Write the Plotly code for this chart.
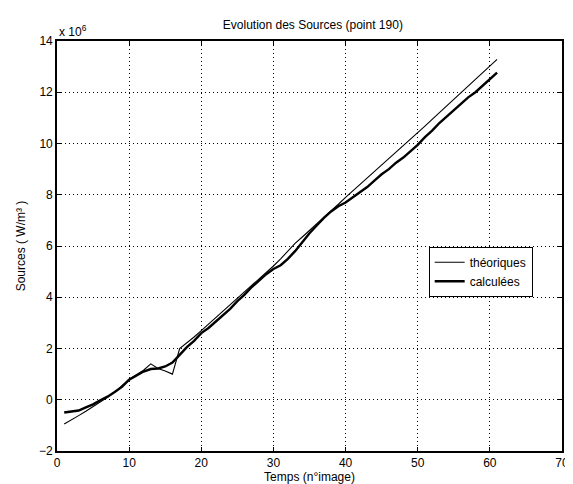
import plotly.graph_objects as go

images = list(range(1, 62))
theoriques = [-0.95, -0.8, -0.62, -0.45, -0.27, -0.1, 0.1, 0.3, 0.55, 0.8,
              0.98, 1.15, 1.4, 1.22, 1.12, 1.0, 2.0, 2.22, 2.45, 2.7,
              2.95, 3.2, 3.45, 3.7, 3.95, 4.2, 4.45, 4.7, 4.95, 5.22,
              5.5, 5.8, 6.1, 6.35, 6.6, 6.85, 7.1, 7.37, 7.63, 7.9,
              8.15, 8.4, 8.65, 8.9, 9.15, 9.4, 9.65, 9.9, 10.15, 10.42,
              10.68, 10.94, 11.2, 11.46, 11.72, 11.98, 12.24, 12.5, 12.76, 13.02,
              13.28]
calculees = [-0.5, -0.47, -0.42, -0.3, -0.18, -0.02, 0.12, 0.3, 0.5, 0.78,
             0.95, 1.1, 1.2, 1.22, 1.3, 1.45, 1.75, 2.05, 2.3, 2.6,
             2.8, 3.05, 3.3, 3.55, 3.85, 4.1, 4.4, 4.65, 4.9, 5.1,
             5.25, 5.5, 5.8, 6.15, 6.5, 6.8, 7.1, 7.35, 7.55, 7.7,
             7.9, 8.1, 8.3, 8.55, 8.8, 9.0, 9.25, 9.45, 9.7, 9.95,
             10.25, 10.5, 10.8, 11.05, 11.3, 11.55, 11.8, 12.0, 12.25, 12.5,
             12.77]

x_ticks = [0, 10, 20, 30, 40, 50, 60, 70]
y_ticks = [-2, 0, 2, 4, 6, 8, 10, 12, 14]

FONT = "Liberation Sans, Arial, Helvetica, sans-serif"

fig = go.Figure()
fig.add_trace(go.Scatter(x=images, y=theoriques, mode="lines", name="théoriques",
                         line=dict(color="black", width=1.1)))
fig.add_trace(go.Scatter(x=images, y=calculees, mode="lines", name="calculées",
                         line=dict(color="black", width=2.4)))

axis_common = dict(
    showline=True, linecolor="black", linewidth=1.6, mirror="ticks",
    showgrid=True, gridcolor="black", gridwidth=1, griddash="1px,3px",
    ticks="inside", ticklen=4, tickcolor="black", tickwidth=1.2,
    zeroline=False, tickfont=dict(family=FONT, size=12, color="black"),
)

fig.update_layout(
    width=573, height=484,
    margin=dict(l=49, r=12, t=33, b=37),
    paper_bgcolor="white", plot_bgcolor="white",
    font=dict(family=FONT, size=12, color="black"),
    title=dict(text="Evolution des Sources (point 190)", x=0.532, xanchor="center",
               y=0.966, yanchor="middle", font=dict(family=FONT, size=12, color="black")),
    xaxis=dict(range=[0, 70], tickvals=x_ticks,
               title=dict(text="Temps (n°image)", standoff=1,
                          font=dict(family=FONT, size=12, color="black")),
               **axis_common),
    yaxis=dict(range=[-2, 14], tickvals=y_ticks,
               title=dict(text="Sources ( W/m³ )", standoff=11,
                          font=dict(family=FONT, size=12, color="black")),
               **axis_common),
    showlegend=True,
    legend=dict(x=0.736, y=0.498, xanchor="left", yanchor="top",
                bgcolor="white", bordercolor="black", borderwidth=1,
                font=dict(family=FONT, size=12, color="black"),
                tracegroupgap=0, itemwidth=30, entrywidth=80),
    annotations=[dict(text="x 10<sup>6</sup>", xref="paper", yref="paper",
                      x=0, y=1, xanchor="left", yanchor="bottom", showarrow=False,
                      font=dict(family=FONT, size=12, color="black"))],
)

fig.write_html("out.html")
